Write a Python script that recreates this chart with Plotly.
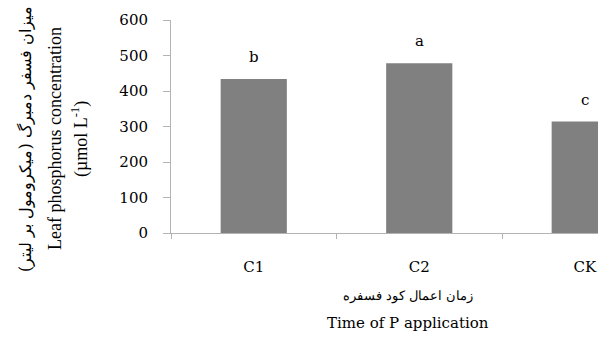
import plotly.graph_objects as go

categories = ["C1", "C2", "CK"]
values = [434, 478, 314]
letters = ["b", "a", "c"]
y_ticks = [0, 100, 200, 300, 400, 500, 600]

W, H = 598, 352
L, T, B = 171, 20, 119
plot_w = W - L
cat_px = 165.5
x_max = plot_w / cat_px - 0.5

wide_fam = "DejaVu Serif"
rot_fam = "Liberation Serif"
fa_fam = "DejaVu Serif"

fig = go.Figure()
fig.add_trace(go.Bar(x=categories, y=values, width=0.4, marker=dict(color="#808080", line=dict(width=0))))

ann = []
for c, v, l in zip(categories, values, letters):
    ann.append(dict(x=c, y=v, text=l, showarrow=False, yshift=22,
                    font=dict(family=wide_fam, size=15, color="black")))

def ytitle(px, text, size, fam):
    return dict(xref="paper", yref="paper", x=0, y=0.5, xshift=px - L, yshift=(126.5 - 139),
                text=text, textangle=-90, showarrow=False, xanchor="center", yanchor="middle",
                font=dict(family=fam, size=size, color="black"))

ann.append(ytitle(25, "میزان فسفر دمبرگ (میکرومول بر لیتر)", 16, fa_fam))
ann.append(ytitle(55, "Leaf phosphorus concentration", 18, rot_fam))
ann.append(ytitle(80, "(µmol L<sup>-1</sup>)", 18, rot_fam))

def xtitle(py, text, size, fam):
    return dict(xref="paper", yref="paper", x=(408 - L) / plot_w, y=0, yshift=-(py - (H - B)),
                text=text, showarrow=False, xanchor="center", yanchor="middle",
                font=dict(family=fam, size=size, color="black"))

ann.append(xtitle(296, "زمان اعمال کود فسفره", 13, fa_fam))
ann.append(xtitle(323, "Time of P application", 15, wide_fam))

fig.update_layout(
    width=W, height=H,
    margin=dict(l=L, r=0, t=T, b=B, pad=0),
    plot_bgcolor="white", paper_bgcolor="white",
    showlegend=False,
    annotations=ann,
    font=dict(family=wide_fam),
    xaxis=dict(range=[-0.5, x_max], type="category", tickson="boundaries",
               showline=True, linecolor="#b3b3b3", linewidth=1,
               ticks="outside", ticklen=5, tickcolor="#b3b3b3",
               ticklabelstandoff=20,
               tickfont=dict(family=wide_fam, size=15, color="black"),
               showgrid=False, zeroline=False),
    yaxis=dict(range=[0, 600], tickvals=y_ticks,
               showline=True, linecolor="#b3b3b3", linewidth=1,
               ticks="outside", ticklen=7, tickcolor="#b3b3b3",
               ticklabelstandoff=12,
               tickfont=dict(family=wide_fam, size=15, color="black"),
               showgrid=False, zeroline=False),
    bargap=0.6,
)

fig.write_html("out.html")
